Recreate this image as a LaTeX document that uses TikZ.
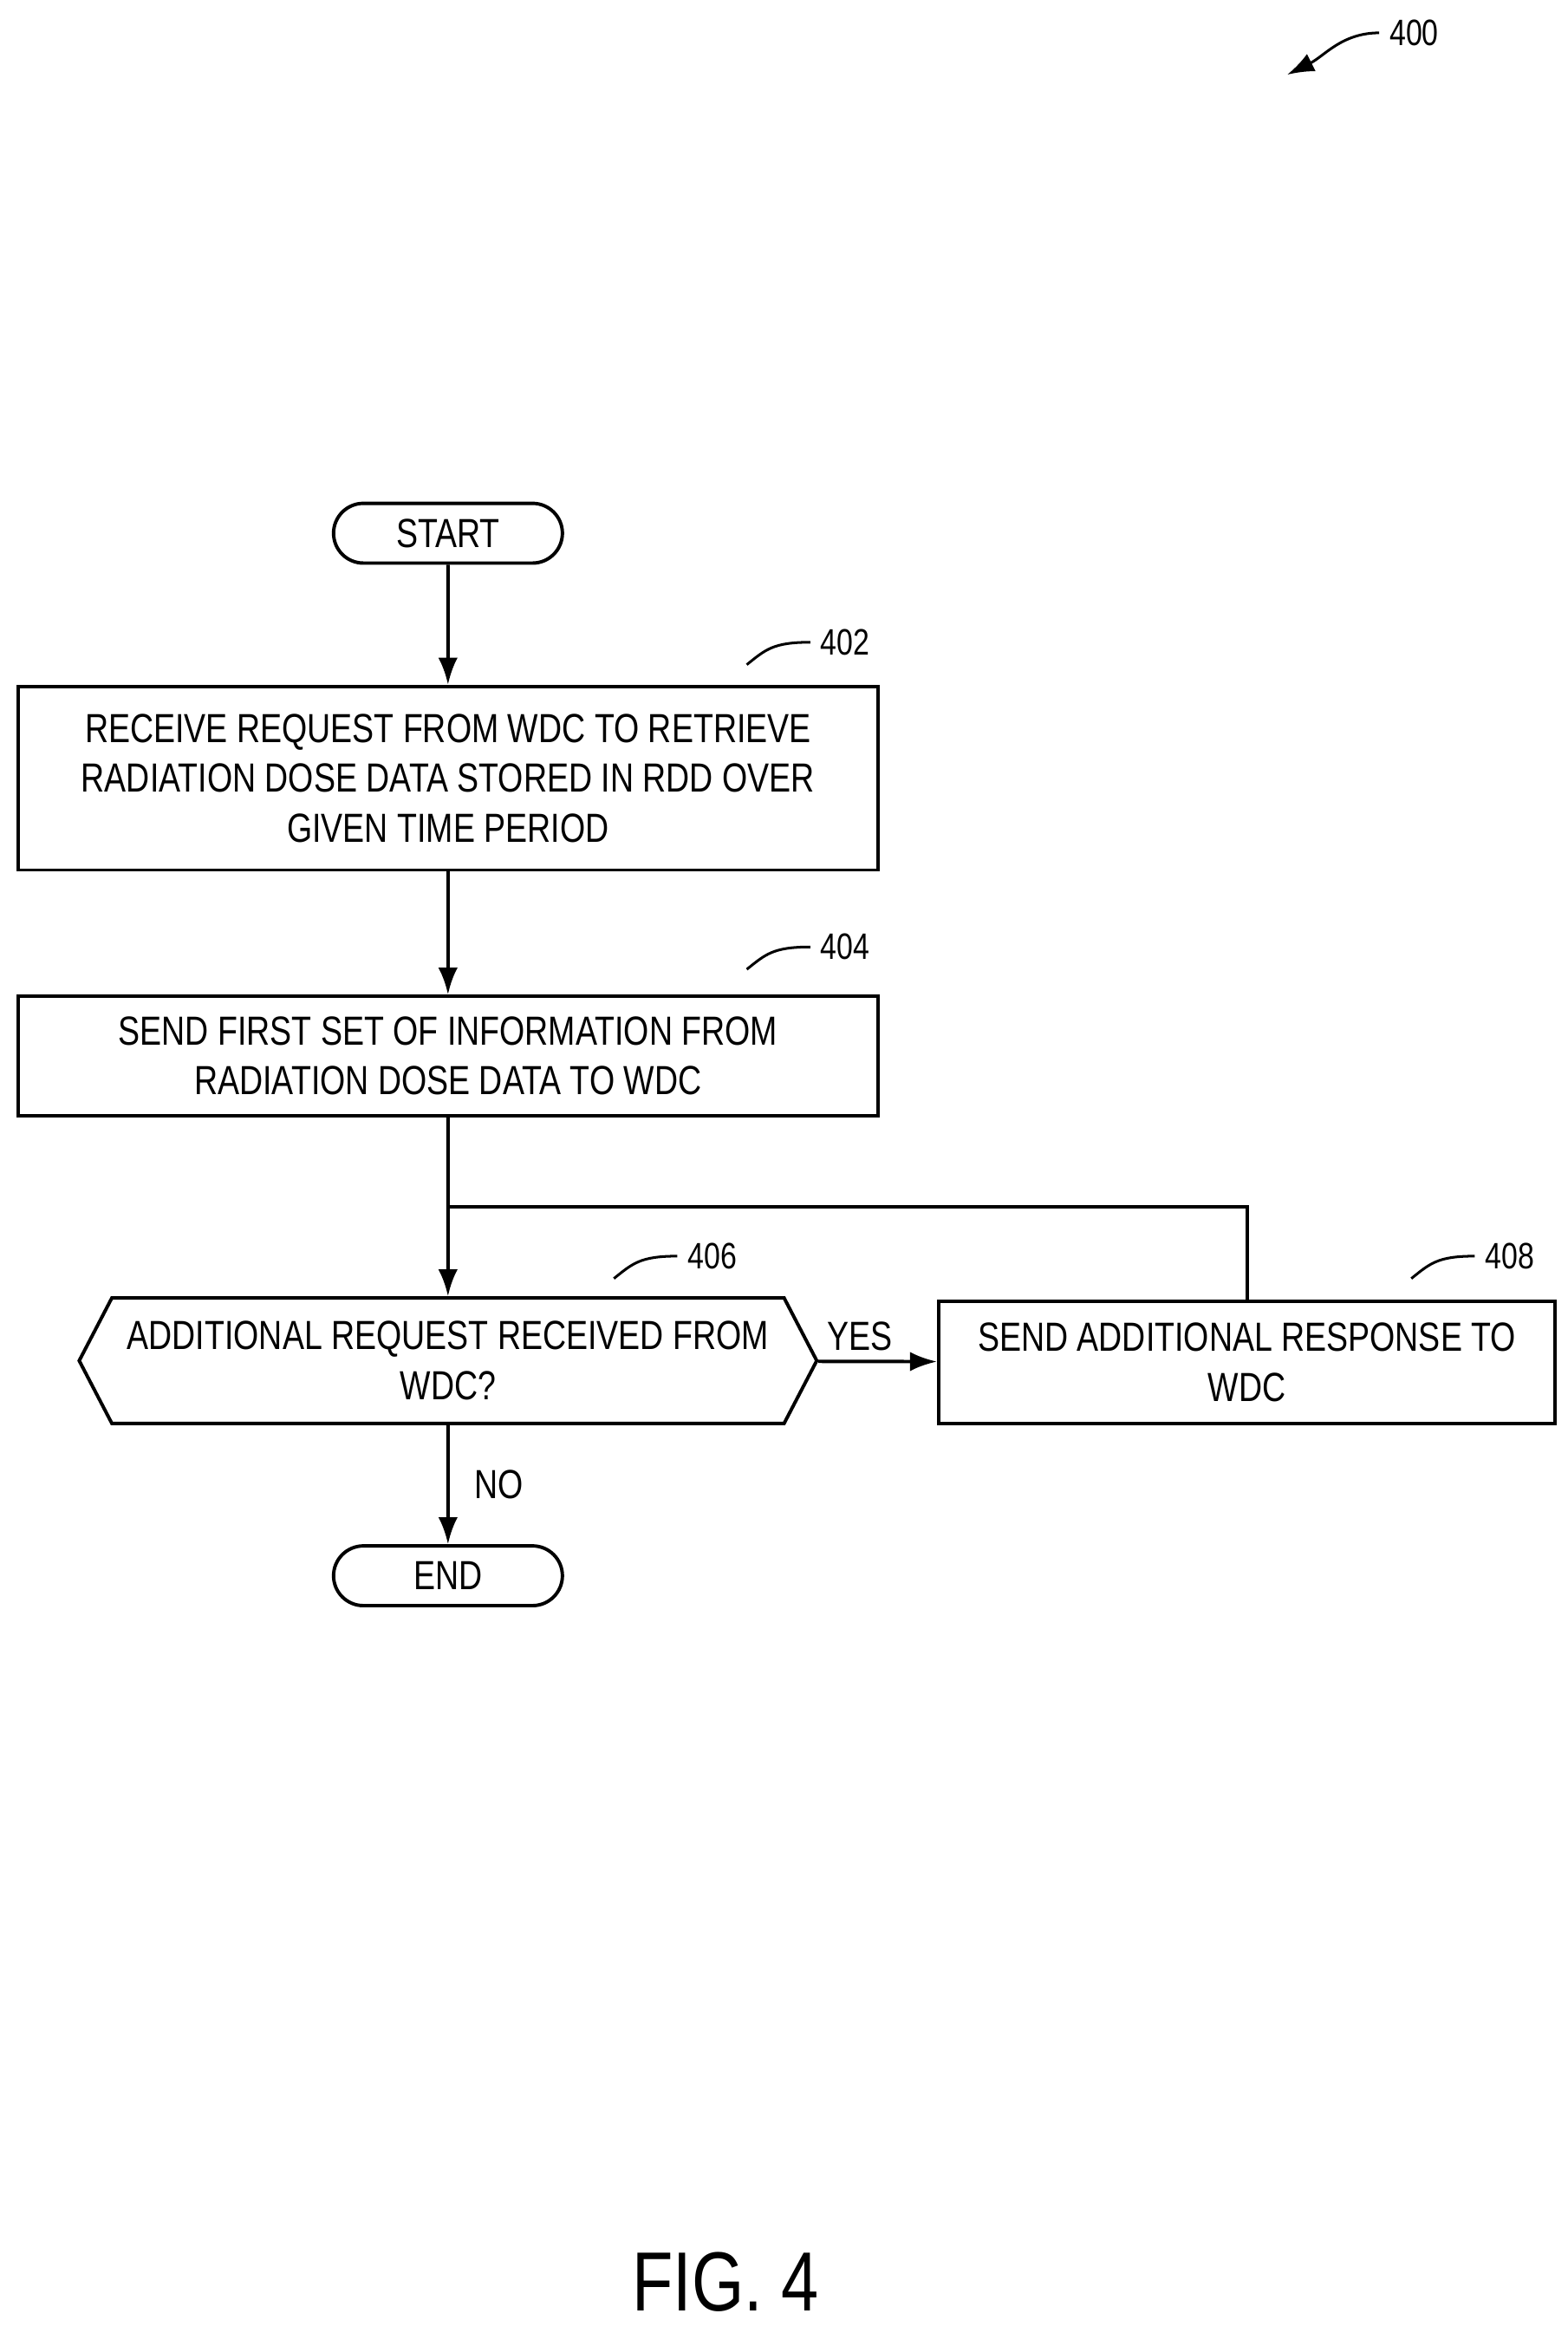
\documentclass[tikz,border=0pt]{standalone}
\usepackage{fontspec}
\setmainfont{Liberation Sans}[FakeStretch=0.8]
\usetikzlibrary{arrows,arrows.meta,shapes,shapes.symbols,positioning}
\tikzstyle{line} = [draw, -{Latex[length=0.36cm,width=0.26cm]}]
\tikzset{
    box/.style={draw, rectangle, minimum width=11.52cm, align=center, inner sep=2pt},
    term/.style={draw, rounded rectangle, minimum width=3.3cm, minimum height=0.8cm},
    decide/.style={draw, signal, signal to=east and west, signal pointer angle=125,
        minimum width=9.88cm, minimum height=1.68cm, align=center, inner sep=1pt},
    ref/.style={font=\fontsize{14}{16}\selectfont},
    leader/.style={draw, line width=1pt},
}
\begin{document}
\begin{tikzpicture}[x=0.02cm, y=-0.02cm, line width=1.3pt,
    font=\fontsize{15.5}{19}\selectfont]
\useasboundingbox (0,0) rectangle (1050,1562);
	% figure number
	\node[ref] (fig) at (947,22) {400};
	\coordinate (figtip) at (862,50);
	\draw[line, line width=1pt] (fig.west) .. controls +(-0.5cm,0cm) and +(0.5cm,0.25cm) .. (figtip);
	% steps
	\node[term] (start) at (300,357) {START};
	\node[box, minimum height=2.46cm] (s402) at (300,521) {RECEIVE REQUEST FROM WDC TO RETRIEVE\\RADIATION DOSE DATA STORED IN RDD OVER\\GIVEN TIME PERIOD};
	\node[box, minimum height=1.6cm] (s404) at (300,707) {SEND FIRST SET OF INFORMATION FROM\\RADIATION DOSE DATA TO WDC};
	\node[decide] (s406) at (300,911) {ADDITIONAL REQUEST RECEIVED FROM\\WDC?};
	\node[box, minimum width=8.26cm, minimum height=1.64cm] (s408) at (835,912) {SEND ADDITIONAL RESPONSE TO\\WDC};
	\node[term] (end) at (300,1055) {END};
	\coordinate (join) at (300,808);
	% reference labels
	\node[ref] (l402) at (566,430) {402};
	\node[ref] (l404) at (566,634) {404};
	\node[ref] (l406) at (477,841) {406};
	\node[ref] (l408) at (1011,841) {408};
	\foreach \l in {l402,l404,l406,l408}
		\draw[leader] (\l.west) .. controls +(-0.5cm,0cm) and +(0.25cm,0.2cm) .. +(-0.85cm,-0.3cm);
	% connectors
	\path[line] (start) -- (s402);
	\path[line] (s402) -- (s404);
	\path[line] (s404) -- (s406);
	\path[line] (s406) -- node[right=6pt, pos=0.5] {NO} (end);
	\path[line] (s406) -- node[above, pos=0.35] {YES} (s408);
	\draw (s408.north) |- (join);
	% caption
	\node[font=\fontsize{32}{36}\selectfont] (cap) at (486,1528) {FIG. 4};
\end{tikzpicture}
\end{document}
